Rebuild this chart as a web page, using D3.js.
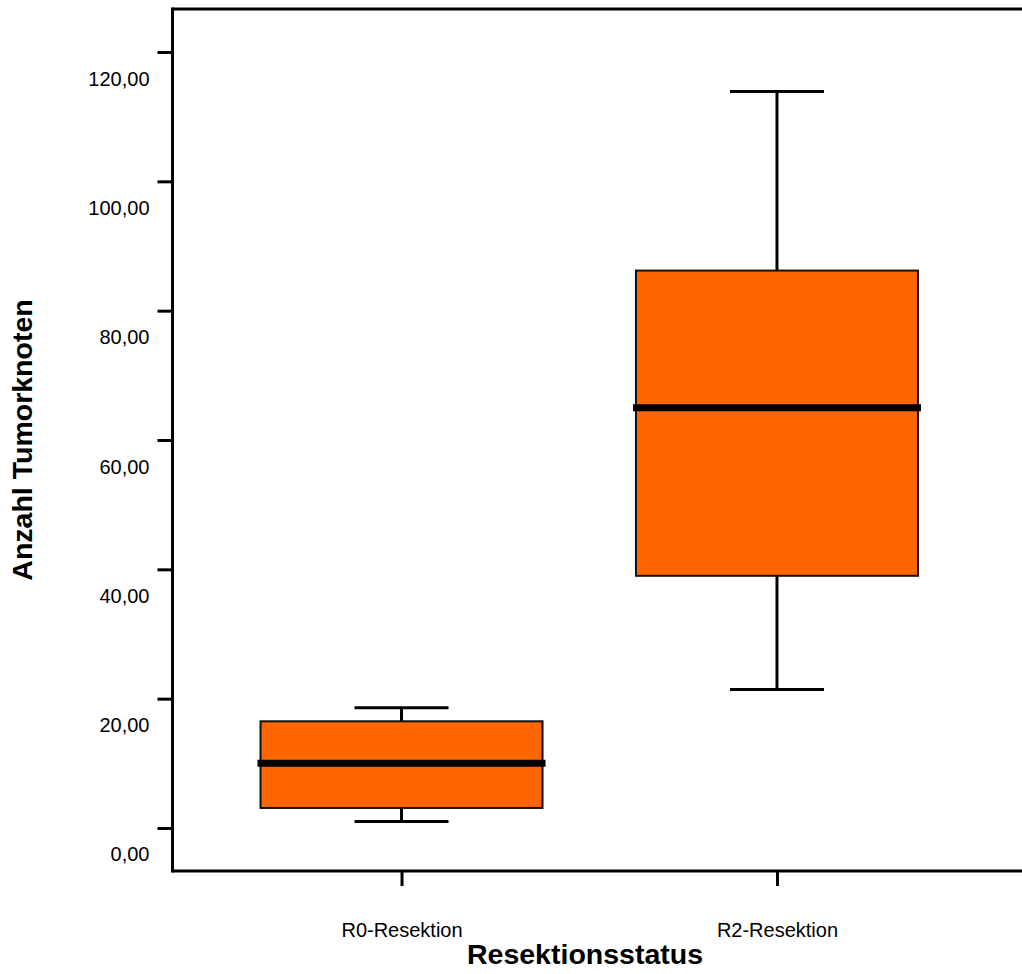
<!DOCTYPE html>
<html>
<head>
<meta charset="utf-8">
<script src="https://cdn.jsdelivr.net/npm/d3@7"></script>
<style>
  body { margin: 0; background: #fff; }
  svg { display: block; font-family: "Liberation Sans", Arial, sans-serif; }
</style>
</head>
<body>
<div id="chart-area"></div>
<script>
// Data
let categories = ["R0-Resektion", "R2-Resektion"];
let whiskerLow = [1.0, 21.4];
let q1 = [3.1, 39.0];
let median = [10.0, 65.0];
let q3 = [16.5, 86.2];
let whiskerHigh = [18.6, 113.9];
let yTicks = [0, 20, 40, 60, 80, 100, 120];

let data = categories.map((c, i) => ({
  cat: c,
  lo: whiskerLow[i],
  q1: q1[i],
  med: median[i],
  q3: q3[i],
  hi: whiskerHigh[i]
}));

// SVG container
let width = 1022, height = 974;
let plot = { left: 172.5, right: 1006, top: 9, bottom: 871 };

let svg = d3
  .select("#chart-area")
  .append("svg")
  .attr("width", width)
  .attr("height", height);

// Scales
let x = d3
  .scalePoint()
  .domain(categories)
  .range([plot.left, plot.right])
  .padding(0.61);

let y = d3
  .scaleLinear()
  .domain([-6.65, 126.65])
  .range([plot.bottom, plot.top]);

let boxHalf = 141, capHalf = 47;

// Frame line on top (runs off the image edge)
svg.append("line")
  .attr("x1", plot.left).attr("x2", width)
  .attr("y1", plot.top).attr("y2", plot.top)
  .attr("stroke", "#000").attr("stroke-width", 3);

// Axes
let yAxis = d3.axisLeft(y)
  .tickValues(yTicks)
  .tickSize(15)
  .tickPadding(8)
  .tickFormat(d => d3.format(".2f")(d).replace(".", ","));

let gy = svg.append("g")
  .attr("class", "axis y-axis")
  .attr("transform", "translate(" + plot.left + ",0)")
  .call(yAxis);
gy.select(".domain").remove();
gy.selectAll(".tick line").attr("stroke-width", 3);
gy.selectAll(".tick text")
  .attr("x", -23)
  .attr("dy", "1.65em")
  .style("font-size", "20px")
  .attr("fill", "#000");

svg.append("line")
  .attr("x1", plot.left).attr("x2", plot.left)
  .attr("y1", plot.top - 1.5).attr("y2", plot.bottom + 1.5)
  .attr("stroke", "#000").attr("stroke-width", 3);

let xAxis = d3.axisBottom(x).tickSize(15).tickPadding(37);
let gx = svg.append("g")
  .attr("class", "axis x-axis")
  .attr("transform", "translate(0," + plot.bottom + ")")
  .call(xAxis);
gx.select(".domain").remove();
gx.selectAll(".tick line").attr("stroke-width", 3);
gx.selectAll(".tick text")
  .style("font-size", "20px")
  .attr("fill", "#000");

svg.append("line")
  .attr("x1", plot.left).attr("x2", width)
  .attr("y1", plot.bottom).attr("y2", plot.bottom)
  .attr("stroke", "#000").attr("stroke-width", 3);

// Boxes
let boxes = svg.selectAll(".box")
  .data(data)
  .enter()
  .append("g")
  .attr("class", "box");

// whiskers
boxes.append("line")
  .attr("x1", d => x(d.cat)).attr("x2", d => x(d.cat))
  .attr("y1", d => y(d.hi)).attr("y2", d => y(d.q3))
  .attr("stroke", "#000").attr("stroke-width", 3);
boxes.append("line")
  .attr("x1", d => x(d.cat)).attr("x2", d => x(d.cat))
  .attr("y1", d => y(d.q1)).attr("y2", d => y(d.lo))
  .attr("stroke", "#000").attr("stroke-width", 3);

// caps
boxes.append("line")
  .attr("x1", d => x(d.cat) - capHalf).attr("x2", d => x(d.cat) + capHalf)
  .attr("y1", d => y(d.hi)).attr("y2", d => y(d.hi))
  .attr("stroke", "#000").attr("stroke-width", 3);
boxes.append("line")
  .attr("x1", d => x(d.cat) - capHalf).attr("x2", d => x(d.cat) + capHalf)
  .attr("y1", d => y(d.lo)).attr("y2", d => y(d.lo))
  .attr("stroke", "#000").attr("stroke-width", 3);

// box
boxes.append("rect")
  .attr("x", d => x(d.cat) - boxHalf)
  .attr("width", boxHalf * 2)
  .attr("y", d => y(d.q3))
  .attr("height", d => y(d.q1) - y(d.q3))
  .attr("fill", "#ff6600")
  .attr("stroke", "#111")
  .attr("stroke-width", 2);

// median
boxes.append("line")
  .attr("x1", d => x(d.cat) - boxHalf - 3).attr("x2", d => x(d.cat) + boxHalf + 3)
  .attr("y1", d => y(d.med)).attr("y2", d => y(d.med))
  .attr("stroke", "#000").attr("stroke-width", 7);

// Axis titles
svg.append("text")
  .attr("x", 585)
  .attr("y", 964)
  .attr("text-anchor", "middle")
  .style("font-size", "28.5px")
  .style("font-weight", "bold")
  .text("Resektionsstatus");

svg.append("text")
  .attr("transform", "translate(32,440) rotate(-90)")
  .attr("text-anchor", "middle")
  .style("font-size", "28.5px")
  .style("font-weight", "bold")
  .text("Anzahl Tumorknoten");
</script>
</body>
</html>
